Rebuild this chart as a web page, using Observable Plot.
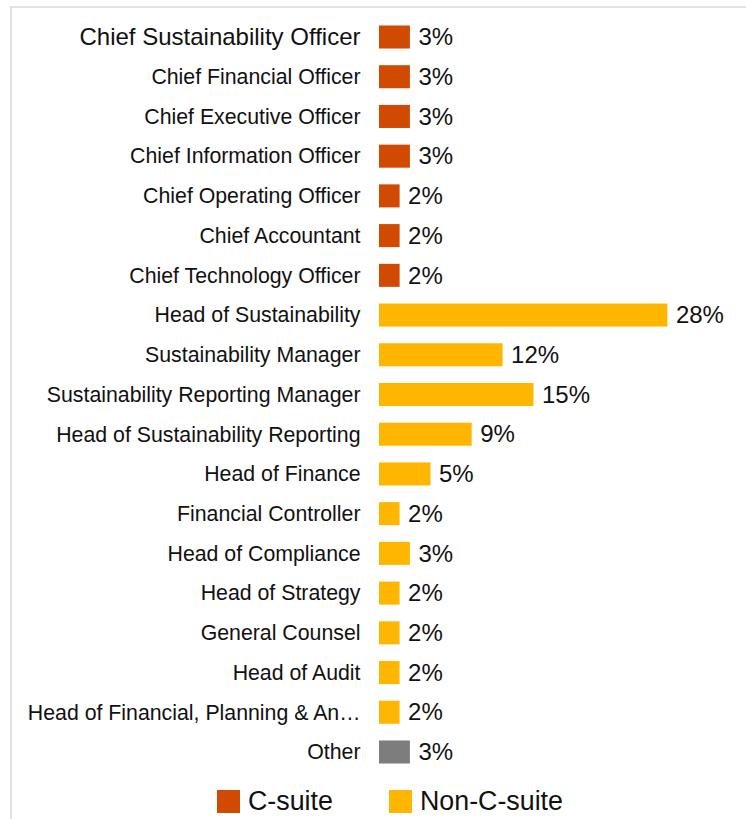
<!DOCTYPE html>
<html>
<head>
<meta charset="utf-8">
<script src="https://cdn.jsdelivr.net/npm/d3@7"></script>
<script src="https://cdn.jsdelivr.net/npm/@observablehq/plot@0.6"></script>
<style>
  html, body { margin: 0; padding: 0; background: #fff; width: 746px; height: 819px; overflow: hidden; }
  body { font-family: "Liberation Sans", Arial, sans-serif; position: relative; }
  #frame { position: absolute; left: 10px; top: 6px; width: 800px; height: 900px;
           border-top: 2px solid #e2e2e2; border-left: 2px solid #e2e2e2; box-sizing: border-box; }
  #chart { position: absolute; left: 0; top: 0; }
  #legend { position: absolute; left: 0; top: 787px; width: 746px; height: 28px; }
  .item { position: absolute; top: 0; display: flex; align-items: center; height: 28px;
          font-size: 26.8px; color: #111; }
  .sw { width: 23px; height: 23px; margin-right: 8px; }
</style>
</head>
<body>
<div id="frame"></div>
<div id="chart"></div>
<div id="legend"></div>
<script>
const categories = [
  "Chief Sustainability Officer",
  "Chief Financial Officer",
  "Chief Executive Officer",
  "Chief Information Officer",
  "Chief Operating Officer",
  "Chief Accountant",
  "Chief Technology Officer",
  "Head of Sustainability",
  "Sustainability Manager",
  "Sustainability Reporting Manager",
  "Head of Sustainability Reporting",
  "Head of Finance",
  "Financial Controller",
  "Head of Compliance",
  "Head of Strategy",
  "General Counsel",
  "Head of Audit",
  "Head of Financial, Planning & An\u2026",
  "Other"
];
const values = [3, 3, 3, 3, 2, 2, 2, 28, 12, 15, 9, 5, 2, 3, 2, 2, 2, 2, 3];
const groups = [
  "C-suite", "C-suite", "C-suite", "C-suite", "C-suite", "C-suite", "C-suite",
  "Non-C-suite", "Non-C-suite", "Non-C-suite", "Non-C-suite", "Non-C-suite",
  "Non-C-suite", "Non-C-suite", "Non-C-suite", "Non-C-suite", "Non-C-suite",
  "Non-C-suite", "Other"
];
const groupNames = ["C-suite", "Non-C-suite", "Other"];
const groupColors = ["#D04A02", "#FFB600", "#7D7D7D"];
const legendNames = ["C-suite", "Non-C-suite"];

const data = categories.map((c, i) => ({category: c, value: values[i], group: groups[i], idx: i}));

const W = 746, H = 782;
const plot = Plot.plot({
  width: W,
  height: H,
  marginLeft: 379,
  marginRight: 78.6,
  marginTop: 8.8,
  marginBottom: H - 780.2,
  style: {fontFamily: "'Liberation Sans', Arial, sans-serif", background: "transparent", color: "#111"},
  x: {domain: [0, 28], axis: null},
  y: {domain: categories, padding: 0.42, round: false, axis: null},
  color: {domain: groupNames, range: groupColors},
  marks: [
    Plot.barX(data, {x: "value", y: "category", fill: "group"}),
    Plot.text(data.filter(d => d.idx === 0), {x: 0, y: "category", text: "category", textAnchor: "end", dx: -19, fontSize: 24, fill: "#111"}),
    Plot.text(data.filter(d => d.idx !== 0), {x: 0, y: "category", text: "category", textAnchor: "end", dx: -19, fontSize: 21.3, fill: "#111"}),
    Plot.text(data, {x: "value", y: "category", text: d => d.value + "%", textAnchor: "start", dx: 8, fontSize: 24, fill: "#111"})
  ]
});
document.getElementById("chart").appendChild(plot);

const legend = document.getElementById("legend");
const lefts = [217, 389];
legendNames.forEach((name, i) => {
  const item = document.createElement("div");
  item.className = "item";
  item.style.left = lefts[i] + "px";
  const sw = document.createElement("div");
  sw.className = "sw";
  sw.style.background = groupColors[groupNames.indexOf(name)];
  const t = document.createElement("span");
  t.textContent = name;
  item.appendChild(sw);
  item.appendChild(t);
  legend.appendChild(item);
});
</script>
</body>
</html>
